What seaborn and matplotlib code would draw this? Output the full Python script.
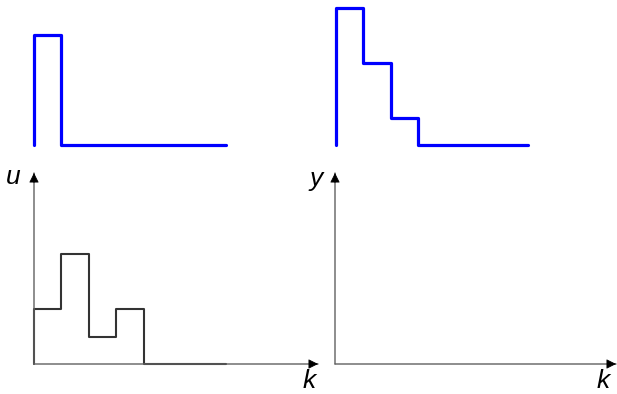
import numpy as np
import pandas as pd
import seaborn as sns
import matplotlib.pyplot as plt

# sample index and signals (heights in grid units)
k = [0, 0, 1, 2, 3, 4, 5, 6, 7]
impulse = [0, 4, 0, 0, 0, 0, 0, 0, 0]
response = [0, 5, 3, 1, 0, 0, 0, 0, 0]
u_input = [0, 2, 4, 1, 2, 0, 0, 0, 0]

W, H = 617, 394
UNIT = 27.4  # pixels per sample / per level

sns.set_style("white")
plt.rcParams['font.family'] = ['Liberation Sans', 'DejaVu Sans']

fig = plt.figure(figsize=(W / 100, H / 100), dpi=100)


def make_axes(x0, y0, x1, y1):
    # x0,y0 = origin pixel, x1 = right end, y1 = top end (pixels from top)
    ax = fig.add_axes([x0 / W, (H - y0) / H, (x1 - x0) / W, (y0 - y1) / H])
    ax.set_xlim(0, (x1 - x0) / UNIT)
    ax.set_ylim(0, (y0 - y1) / UNIT)
    ax.axis('off')
    return ax


def draw_signal(ax, values, color, lw):
    df = pd.DataFrame({'k': k, 'v': values})
    sns.lineplot(data=df, x='k', y='v', ax=ax, estimator=None, sort=False,
                 drawstyle='steps-post', color=color, linewidth=lw,
                 clip_on=False)


def draw_arrows(ax):
    # gray shaft, black head
    shaft = dict(arrowstyle='-', color='#606060', lw=1.0, shrinkA=0, shrinkB=0)
    head = dict(arrowstyle='-|>', color='black', lw=0.5,
                mutation_scale=15, shrinkA=0, shrinkB=0)
    ax.annotate('', xy=(1, 0), xytext=(0, 0), xycoords='axes fraction',
                arrowprops=shaft, annotation_clip=False)
    ax.annotate('', xy=(0, 1), xytext=(0, 0), xycoords='axes fraction',
                arrowprops=shaft, annotation_clip=False)
    ax.annotate('', xy=(1, 0), xytext=(0.97, 0), xycoords='axes fraction',
                arrowprops=head, annotation_clip=False)
    ax.annotate('', xy=(0, 1), xytext=(0, 0.95), xycoords='axes fraction',
                arrowprops=head, annotation_clip=False)


# top row: impulse and response
ax_tl = make_axes(34, 145, 318, 8)
draw_signal(ax_tl, impulse, '#0000ff', 2.3)
ax_tr = make_axes(336, 145, 616, 8)
draw_signal(ax_tr, response, '#0000ff', 2.3)

# bottom row: input u and output y
ax_bl = make_axes(34, 364, 318, 173)
draw_arrows(ax_bl)
draw_signal(ax_bl, u_input, '#333333', 1.5)
ax_br = make_axes(335, 364, 616, 173)
draw_arrows(ax_br)

for ax in (ax_tl, ax_tr, ax_bl, ax_br):
    if ax.get_legend():
        ax.get_legend().remove()

tkw = dict(fontsize=19, style='italic', ha='center', va='center', color='black')
fig.text(13 / W, 1 - 177 / H, 'u', **tkw)
fig.text(316 / W, 1 - 179 / H, 'y', **tkw)
fig.text(309 / W, 1 - 381 / H, 'k', **tkw)
fig.text(603 / W, 1 - 381 / H, 'k', **tkw)

fig.savefig('out.png', dpi=100)
